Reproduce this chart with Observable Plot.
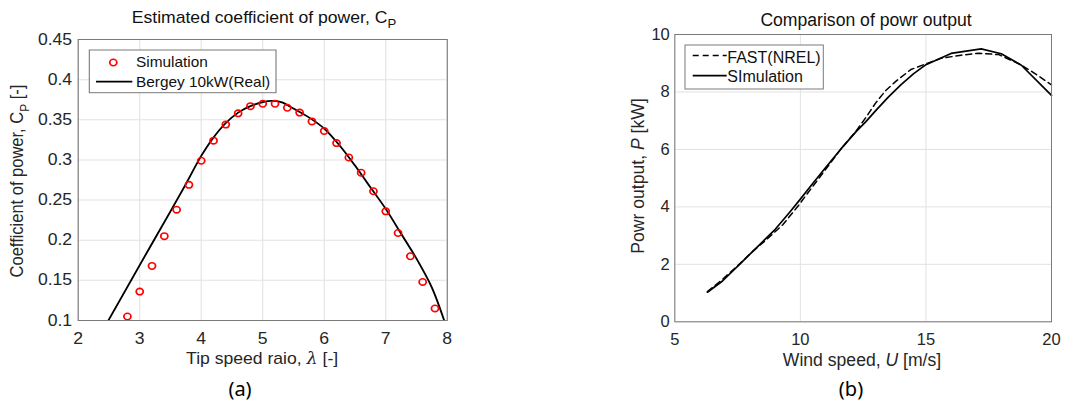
<!DOCTYPE html>
<html><head><meta charset="utf-8">
<script src="https://cdn.jsdelivr.net/npm/d3@7"></script>
<script src="https://cdn.jsdelivr.net/npm/@observablehq/plot@0.6"></script>
<style>
html,body{margin:0;padding:0;background:#fff;}
#wrap{position:relative;width:1068px;height:406px;overflow:hidden;font-family:"Liberation Sans",Arial,sans-serif;}
#left{position:absolute;left:0;top:0;width:485.5px;height:406px;transform:scaleX(1.1);transform-origin:0 0;}
#right{position:absolute;left:534px;top:0;width:534px;height:406px;}
#caps{position:absolute;left:0;top:0;pointer-events:none;}
</style></head>
<body><div id="wrap"><div id="left"></div><div id="right"></div><svg id="caps" width="1068" height="406"></svg></div>
<script>
// ---- data: (a) coefficient of power ----
const tsrSim = [2.8,3.0,3.2,3.4,3.6,3.8,4.0,4.2,4.4,4.6,4.8,5.0,5.2,5.4,5.6,5.8,6.0,6.2,6.4,6.6,6.8,7.0,7.2,7.4,7.6,7.8];
const cpSim  = [0.105,0.136,0.168,0.205,0.238,0.269,0.299,0.324,0.344,0.358,0.367,0.370,0.370,0.365,0.359,0.348,0.336,0.321,0.303,0.284,0.261,0.236,0.209,0.180,0.148,0.115];
const tsrReal = [2.49,3.0,3.5,3.75,4.0,4.2,4.4,4.6,4.8,5.0,5.15,5.3,5.5,5.75,6.0,6.25,6.5,6.75,7.0,7.25,7.5,7.75,7.95];
const cpReal  = [0.100,0.169,0.236,0.270,0.305,0.328,0.346,0.359,0.367,0.372,0.3735,0.372,0.364,0.353,0.339,0.318,0.293,0.266,0.239,0.208,0.177,0.141,0.100];
const tsrTicks = [2,3,4,5,6,7,8];
const cpTicks = [0.1,0.15,0.2,0.25,0.3,0.35,0.4,0.45];

// ---- data: (b) power output ----
const windFast  = [6.3,6.9,7.5,8.1,8.7,9.3,9.9,10.5,11.0,11.6,12.2,12.6,13.0,13.4,13.8,14.4,15.0,15.6,16.4,17.1,17.9,18.7,19.2,20.0];
const powerFast = [1.05,1.48,1.95,2.45,2.9,3.38,4.02,4.72,5.3,6.0,6.62,7.1,7.62,8.05,8.37,8.78,8.98,9.17,9.28,9.35,9.30,8.98,8.72,8.25];
const windSim  = [6.3,6.9,7.65,8.3,9.0,9.6,10.0,10.5,11.0,11.6,12.2,12.6,13.0,13.5,14.0,14.5,15.0,16.0,17.2,18.0,18.8,20.0];
const powerSim = [1.03,1.42,2.06,2.62,3.22,3.84,4.27,4.82,5.36,6.0,6.6,6.96,7.35,7.82,8.25,8.63,8.95,9.34,9.5,9.33,8.93,7.88];
const windTicks = [5,10,15,20];
const powerTicks = [0,2,4,6,8,10];

const simPts = tsrSim.map((x,i)=>({x, y: cpSim[i]}));
const realPts = tsrReal.map((x,i)=>({x, y: cpReal[i]}));
const fastPts = windFast.map((x,i)=>({x, y: powerFast[i]}));
const simPPts = windSim.map((x,i)=>({x, y: powerSim[i]}));

const FONT = "Liberation Sans, Arial, sans-serif";
const GRID = "#e2e2e2";
const FRAME = "#7a7a7a";

const left = Plot.plot({
  width: 485.5, height: 406,
  marginLeft: 70.6, marginRight: 79.4, marginTop: 39, marginBottom: 86,
  style: {fontFamily: FONT, fontSize: "16px", color: "#262626", background: "transparent", overflow: "visible"},
  x: {domain: [2, 8], ticks: tsrTicks, tickSize: 0, tickPadding: 12.3, label: null, tickFormat: d => String(d)},
  y: {domain: [0.1, 0.45], ticks: cpTicks, tickSize: 0, tickPadding: 5.5, label: null, tickFormat: d => String(d)},
  marks: [
    Plot.ruleX(tsrTicks, {stroke: GRID}),
    Plot.ruleY(cpTicks, {stroke: GRID}),
    Plot.line(realPts, {x: "x", y: "y", stroke: "#000", strokeWidth: 1.7, curve: "catmull-rom", clip: true}),
    Plot.dot(simPts, {x: "x", y: "y", r: 3.2, stroke: "#ff0000", strokeWidth: 1.6, fill: "none"}),
    Plot.frame({stroke: FRAME})
  ]
});
document.getElementById("left").appendChild(left);

const right = Plot.plot({
  width: 534, height: 406,
  marginLeft: 140.3, marginRight: 17, marginTop: 34, marginBottom: 84.7,
  style: {fontFamily: FONT, fontSize: "16.5px", color: "#262626", background: "transparent", overflow: "visible"},
  x: {domain: [5, 20], ticks: windTicks, tickSize: 0, tickPadding: 11.2, label: null, tickFormat: d => String(d)},
  y: {domain: [0, 10], ticks: powerTicks, tickSize: 0, tickPadding: 5, label: null, tickFormat: d => String(d)},
  marks: [
    Plot.ruleX(windTicks, {stroke: GRID}),
    Plot.ruleY(powerTicks, {stroke: GRID}),
    Plot.line(fastPts, {x: "x", y: "y", stroke: "#000", strokeWidth: 1.5, strokeDasharray: "6,4"}),
    Plot.line(simPPts, {x: "x", y: "y", stroke: "#000", strokeWidth: 1.7}),
    Plot.frame({stroke: FRAME})
  ]
});
document.getElementById("right").appendChild(right);

function addText(svg, o) {
  const t = d3.select(svg).append("text")
    .attr("text-anchor", o.anchor || "middle")
    .attr("font-size", o.size)
    .attr("font-family", o.font || FONT)
    .attr("fill", o.fill || "#262626")
    .attr("transform", `translate(${o.x},${o.y}) rotate(${o.rotate || 0})`);
  for (const p of o.parts) {
    const s = t.append("tspan").text(p.t);
    if (p.italic) s.attr("font-style", "italic");
    if (p.font) s.attr("font-family", p.font);
    if (p.size) s.attr("font-size", p.size);
    if (p.dy) s.attr("dy", p.dy);
  }
  return t;
}

// ---- left annotations (local coords, stretched 1.1 horizontally) ----
addText(left, {x: 240, y: 22.7, size: 16, fill: "#111", parts: [
  {t: "Estimated coefficient of power, C"}, {t: "P", size: 12, dy: 5.5}]});
addText(left, {x: 238.3, y: 364, size: 16, parts: [
  {t: "Tip speed raio, "}, {t: "λ", italic: true, font: "DejaVu Serif"}, {t: " [-]"}]});
addText(left, {x: 21, y: 181, rotate: -90, size: 16.5, parts: [
  {t: "Coefficient of power, C"}, {t: "P", size: 12, dy: 5}, {t: " [-]", dy: -5}]});
{
  const g = d3.select(left).append("g");
  g.append("rect").attr("x", 81.2).attr("y", 50).attr("width", 169.7).attr("height", 42.7)
    .attr("fill", "#fff").attr("stroke", "#7a7a7a");
  g.append("circle").attr("cx", 103).attr("cy", 62.5).attr("r", 3.2)
    .attr("fill", "none").attr("stroke", "#ff0000").attr("stroke-width", 1.6);
  g.append("line").attr("x1", 87.3).attr("x2", 120.3).attr("y1", 81.7).attr("y2", 81.7)
    .attr("stroke", "#000").attr("stroke-width", 1.7);
  addText(left, {x: 123.6, y: 67.3, size: 14, anchor: "start", fill: "#111", parts: [{t: "Simulation"}]});
  addText(left, {x: 123.6, y: 86.7, size: 14, anchor: "start", fill: "#111", parts: [{t: "Bergey 10kW(Real)"}]});
}

// ---- right annotations (local coords) ----
addText(right, {x: 332, y: 26, size: 17.6, fill: "#111", parts: [{t: "Comparison of powr output"}]});
addText(right, {x: 328, y: 366, size: 17.6, parts: [
  {t: "Wind speed, "}, {t: "U", italic: true}, {t: " [m/s]"}]});
addText(right, {x: 110, y: 176, rotate: -90, size: 17.6, parts: [
  {t: "Powr output, "}, {t: "P", italic: true}, {t: " [kW]"}]});
{
  const g = d3.select(right).append("g");
  g.append("rect").attr("x", 151).attr("y", 45).attr("width", 138.3).attr("height", 44)
    .attr("fill", "#fff").attr("stroke", "#7a7a7a");
  g.append("line").attr("x1", 158.7).attr("x2", 192.7).attr("y1", 55.5).attr("y2", 55.5)
    .attr("stroke", "#000").attr("stroke-width", 1.5).attr("stroke-dasharray", "6,4");
  g.append("line").attr("x1", 158.7).attr("x2", 192.7).attr("y1", 75.7).attr("y2", 75.7)
    .attr("stroke", "#000").attr("stroke-width", 1.7);
  addText(right, {x: 193.3, y: 62.7, size: 16, anchor: "start", fill: "#111", parts: [{t: "FAST(NREL)"}]});
  addText(right, {x: 193.3, y: 81.7, size: 16, anchor: "start", fill: "#111", parts: [{t: "SImulation"}]});
}

// ---- captions ----
const caps = document.getElementById("caps");
addText(caps, {x: 240, y: 396, size: 20, font: "Noto Sans, sans-serif", fill: "#000", parts: [{t: "(a)"}]});
addText(caps, {x: 851, y: 396, size: 20, font: "Noto Sans, sans-serif", fill: "#000", parts: [{t: "(b)"}]});
</script>
</body></html>
